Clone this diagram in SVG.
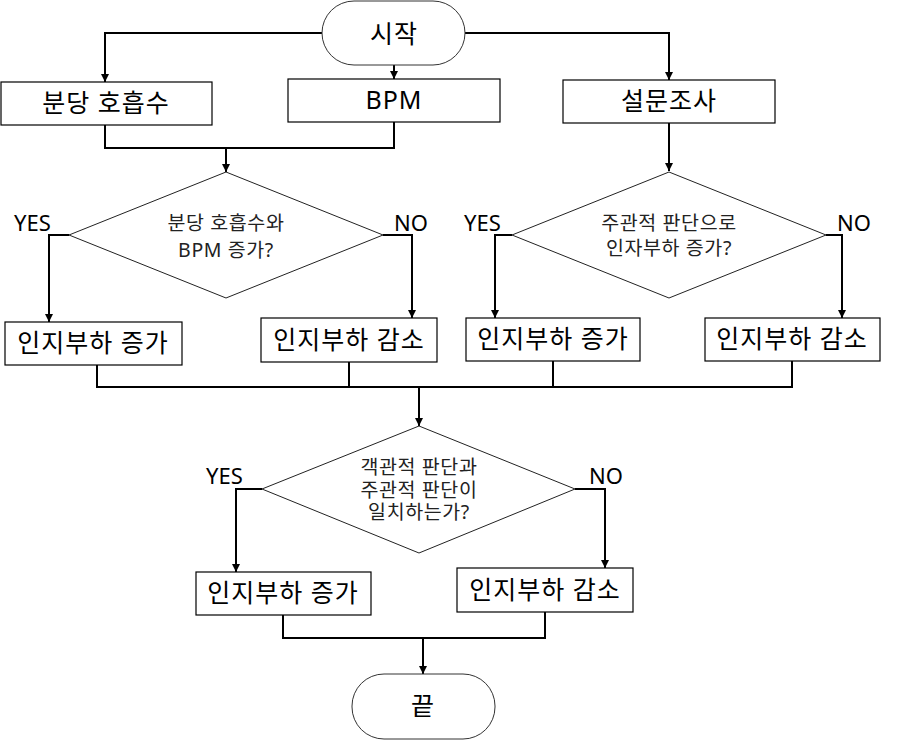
<svg xmlns="http://www.w3.org/2000/svg" width="908" height="740" viewBox="0 0 908 740">
<defs>
<style>
.box{fill:#fff;stroke:#000;stroke-width:1.2}
.term{fill:#fff;stroke:#333;stroke-width:1}
.dia{fill:#fff;stroke:#222;stroke-width:1}
.t{font-family:"Noto Sans","Noto Sans CJK KR",sans-serif;font-size:25px;letter-spacing:1px;fill:#000;text-anchor:middle}
.d{font-family:"Noto Sans","Noto Sans CJK KR",sans-serif;font-size:19.5px;letter-spacing:0.6px;fill:#222;text-anchor:middle}
.l{font-family:"Noto Sans","Noto Sans CJK KR",sans-serif;font-size:22px;fill:#000}
.c path{fill:none;stroke:#000;stroke-width:2}
.c path.a{marker-end:url(#ah)}
</style>
<marker id="ah" viewBox="0 0 10 10" refX="10" refY="5" markerWidth="8" markerHeight="9" markerUnits="userSpaceOnUse" orient="auto">
<path d="M0,0 L10,5 L0,10 z" fill="#000"/>
</marker>
</defs>
<rect width="908" height="740" fill="#fff"/>
<g class="c" id="connectors">
<path class="a" d="M322,33 H105 V82"/>
<path class="a" d="M394,65 V79"/>
<path class="a" d="M465,33 H669 V80"/>
<path d="M105,125 V148 H394 V122"/>
<path class="a" d="M226,148 V172"/>
<path class="a" d="M669,123 V171"/>
<path class="a" d="M69,235 H49 V322"/>
<path class="a" d="M383,235 H412 V318"/>
<path class="a" d="M512,235 H495 V318"/>
<path class="a" d="M826,235 H842 V318"/>
<path d="M97,365 V387 H792 V361"/>
<path d="M349,362 V387"/>
<path d="M553,361 V387"/>
<path class="a" d="M419,387 V426"/>
<path class="a" d="M262,489 H236 V572"/>
<path class="a" d="M575,489 H605 V568"/>
<path d="M283,615 V638 H545 V612"/>
<path class="a" d="M423,638 V674"/>
</g>
<g id="start"><rect class="term" x="322" y="1" width="143" height="64" rx="32"/><text class="t" x="394" y="43">시작</text></g>
<g id="breath"><rect class="box" x="1" y="82" width="211" height="43"/><text class="t" x="106" y="112">분당 호흡수</text></g>
<g id="bpm"><rect class="box" x="288" y="79" width="212" height="43"/><text class="t" x="394" y="109">BPM</text></g>
<g id="survey"><rect class="box" x="563" y="80" width="212" height="43"/><text class="t" x="669" y="110">설문조사</text></g>
<g id="dec1"><polygon class="dia" points="226,172 383,235 226,298 69,235"/><text class="d" x="226" y="230">분당 호흡수와</text><text class="d" x="226" y="257">BPM 증가?</text></g>
<g id="dec2"><polygon class="dia" points="669,172 826,235 669,298 512,235"/><text class="d" x="669" y="230">주관적 판단으로</text><text class="d" x="669" y="255">인자부하 증가?</text></g>
<text class="l" x="14" y="231">YES</text>
<text class="l" x="394" y="231">NO</text>
<text class="l" x="464" y="231">YES</text>
<text class="l" x="837" y="231">NO</text>
<g id="r1"><rect class="box" x="5" y="322" width="177" height="43"/><text class="t" x="93" y="352">인지부하 증가</text></g>
<g id="r2"><rect class="box" x="261" y="318" width="176" height="44"/><text class="t" x="349" y="349">인지부하 감소</text></g>
<g id="r3"><rect class="box" x="466" y="318" width="174" height="43"/><text class="t" x="553" y="348">인지부하 증가</text></g>
<g id="r4"><rect class="box" x="705" y="318" width="175" height="43"/><text class="t" x="792" y="348">인지부하 감소</text></g>
<g id="dec3"><polygon class="dia" points="419,426 575,489 419,553 262,489"/><text class="d" x="419" y="474">객관적 판단과</text><text class="d" x="419" y="497">주관적 판단이</text><text class="d" x="419" y="519">일치하는가?</text></g>
<text class="l" x="206" y="484">YES</text>
<text class="l" x="589" y="484">NO</text>
<g id="r5"><rect class="box" x="196" y="572" width="175" height="43"/><text class="t" x="283" y="602">인지부하 증가</text></g>
<g id="r6"><rect class="box" x="457" y="568" width="176" height="44"/><text class="t" x="545" y="599">인지부하 감소</text></g>
<g id="end"><rect class="term" x="352" y="674" width="143" height="65" rx="32"/><text class="t" x="423" y="715">끝</text></g>
</svg>
